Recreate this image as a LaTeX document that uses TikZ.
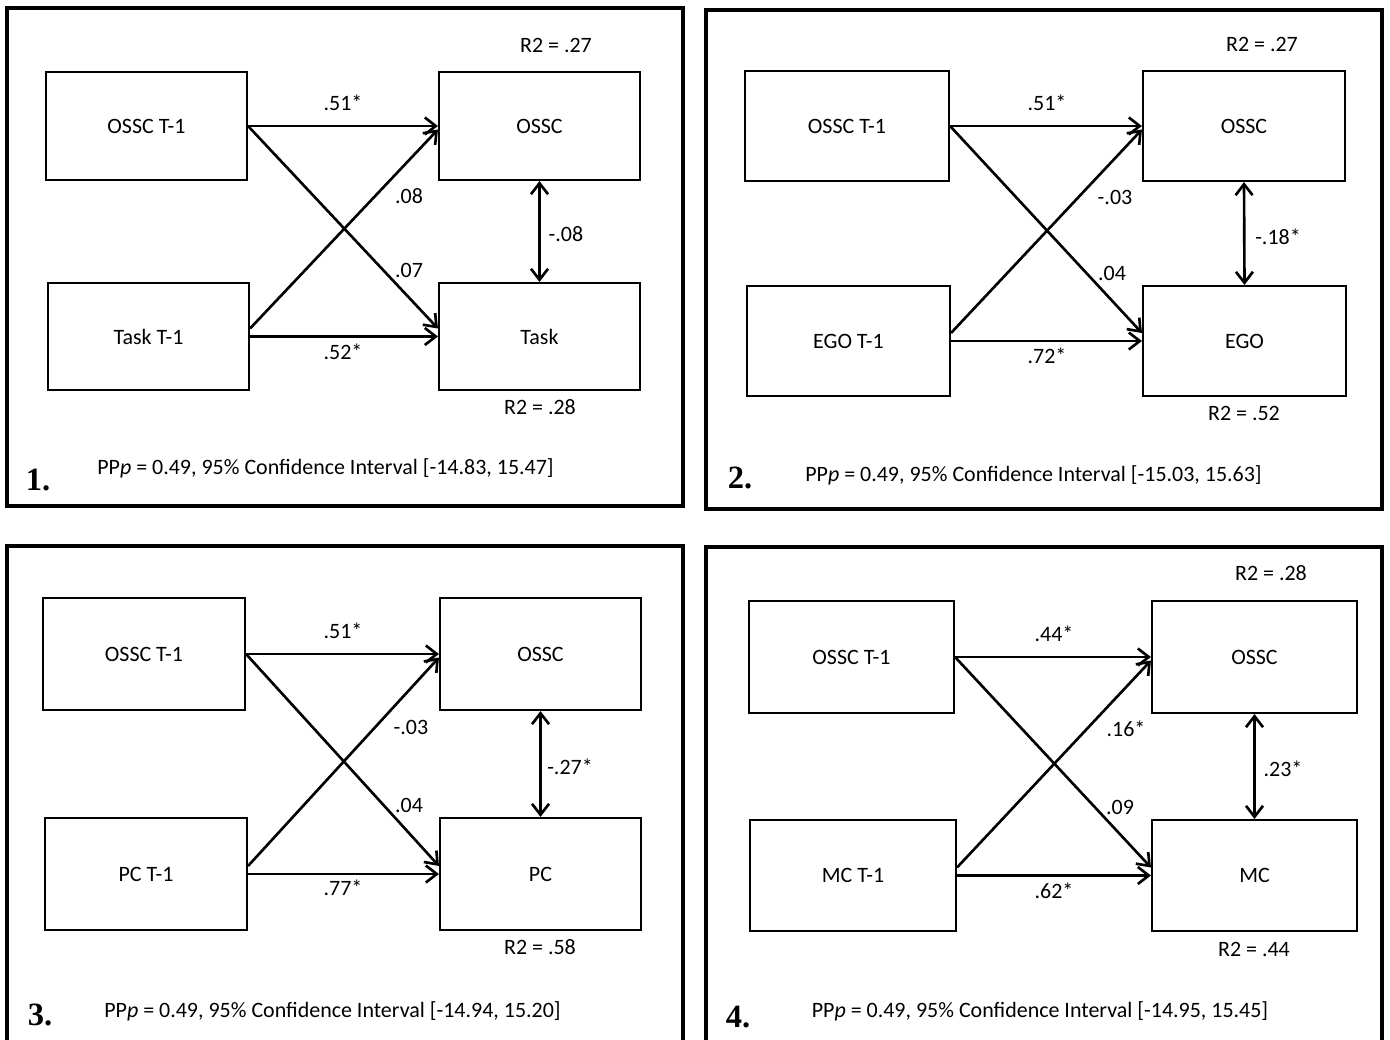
\documentclass[tikz,border=0pt]{standalone}
\usepackage{fontspec}
\setmainfont{Carlito}
\newfontfamily\numfont{Liberation Serif}
\usetikzlibrary{arrows.meta}
\begin{document}
\begin{tikzpicture}[x=0.02cm,y=-0.02cm]

    \tikzset{
      box/.style={
        draw,
        line width=1.2pt,
        inner sep=0pt,
        font=\fontsize{12.5}{15}\selectfont,
      },
      lbl/.style={
        inner sep=0pt,
        font=\fontsize{12.5}{15}\selectfont,
      },
      link/.style={
        line width=1.5pt,
        -{Straight Barb[length=2.2mm,width=3.4mm]},
      },
      corr/.style={
        line width=1.5pt,
        {Straight Barb[length=2.2mm,width=3.4mm]}-{Straight Barb[length=2.2mm,width=3.4mm]},
      },
      frame/.style={line width=1.8pt},
      num/.style={inner sep=0pt, font=\numfont\bfseries\fontsize{18.5}{20}\selectfont},
    }
    \useasboundingbox (0,0) rectangle (1390,1040);

	\draw[frame] (7,8) rectangle (683,506);
	\node[box, minimum width=4.02cm, minimum height=2.16cm] (ossclag1) at (146.5,126) {OSSC T-1};
	\node[box, minimum width=4.02cm, minimum height=2.14cm] (tasklag1) at (148.5,336.5) {Task T-1};
	\node[box, minimum width=4.02cm, minimum height=2.16cm] (ossc1) at (539.5,126) {OSSC};
	\node[box, minimum width=4.02cm, minimum height=2.14cm] (task1) at (539.5,336.5) {Task};
	\draw[link] (ossclag1.east) -- (ossc1.west);
	\draw[link] (tasklag1.east) -- (task1.west);
	\draw[link] (ossclag1.east) -- ([yshift=0.16cm]task1.west);
	\draw[link] ([yshift=0.16cm]tasklag1.east) -- ([yshift=-0.07cm]ossc1.west);
	\draw[corr] (ossc1.south) -- (task1.north);
	\node[lbl] (r2a1) at (556,45) {R2 = .27};
	\node[lbl] (r2b1) at (540,407) {R2 = .28};
	\node[lbl] (wa1) at (343,103) {.51*};
	\node[lbl] (wb1) at (343,352) {.52*};
	\node[lbl] (wc1) at (409,196) {.08};
	\node[lbl] (wd1) at (409,270) {.07};
	\node[lbl] (we1) at (566,234) {-.08};
	\node[num] (n1) at (38,480) {1.};
	\node[lbl] (fit1) at (325.5,468) {PP\textit{p} = 0.49, 95\% Confidence Interval [-14.83, 15.47]};

	\draw[frame] (706,10) rectangle (1382,509);
	\node[box, minimum width=4.08cm, minimum height=2.2cm] (ossclag2) at (847,126) {OSSC T-1};
	\node[box, minimum width=4.06cm, minimum height=2.2cm] (egolag2) at (848.5,341) {EGO T-1};
	\node[box, minimum width=4.04cm, minimum height=2.2cm] (ossc2) at (1244,126) {OSSC};
	\node[box, minimum width=4.06cm, minimum height=2.2cm] (ego2) at (1244.5,341) {EGO};
	\draw[link] (ossclag2.east) -- (ossc2.west);
	\draw[link] (egolag2.east) -- (ego2.west);
	\draw[link] (ossclag2.east) -- ([yshift=0.16cm]ego2.west);
	\draw[link] ([yshift=0.16cm]egolag2.east) -- ([yshift=-0.07cm]ossc2.west);
	\draw[corr] (ossc2.south) -- (ego2.north);
	\node[lbl] (r2a2) at (1262,44) {R2 = .27};
	\node[lbl] (r2b2) at (1244,413) {R2 = .52};
	\node[lbl] (wa2) at (1047,103) {.51*};
	\node[lbl] (wb2) at (1047,356) {.72*};
	\node[lbl] (wc2) at (1115,197) {-.03};
	\node[lbl] (wd2) at (1112,273) {.04};
	\node[lbl] (we2) at (1278,237) {-.18*};
	\node[num] (n2) at (740,478) {2.};
	\node[lbl] (fit2) at (1033.5,475) {PP\textit{p} = 0.49, 95\% Confidence Interval [-15.03, 15.63]};

	\draw[frame] (7,1045) -- (7,546) -- (683,546) -- (683,1045);
	\node[box, minimum width=4.04cm, minimum height=2.24cm] (ossclag3) at (144,654) {OSSC T-1};
	\node[box, minimum width=4.04cm, minimum height=2.24cm] (pclag3) at (146,874) {PC T-1};
	\node[box, minimum width=4.02cm, minimum height=2.24cm] (ossc3) at (540.5,654) {OSSC};
	\node[box, minimum width=4.02cm, minimum height=2.24cm] (pc3) at (540.5,874) {PC};
	\draw[link] (ossclag3.east) -- (ossc3.west);
	\draw[link] (pclag3.east) -- (pc3.west);
	\draw[link] (ossclag3.east) -- ([yshift=0.16cm]pc3.west);
	\draw[link] ([yshift=0.16cm]pclag3.east) -- ([yshift=-0.07cm]ossc3.west);
	\draw[corr] (ossc3.south) -- (pc3.north);
	\node[lbl] (r2b3) at (540,947) {R2 = .58};
	\node[lbl] (wa3) at (343,631) {.51*};
	\node[lbl] (wb3) at (343,888) {.77*};
	\node[lbl] (wc3) at (411,727) {-.03};
	\node[lbl] (wd3) at (409,805) {.04};
	\node[lbl] (we3) at (570,767) {-.27*};
	\node[num] (n3) at (40,1015) {3.};
	\node[lbl] (fit3) at (332.5,1011) {PP\textit{p} = 0.49, 95\% Confidence Interval [-14.94, 15.20]};

	\draw[frame] (706,1045) -- (706,547) -- (1382,547) -- (1382,1045);
	\node[box, minimum width=4.1cm, minimum height=2.24cm] (ossclag4) at (851.5,657) {OSSC T-1};
	\node[box, minimum width=4.12cm, minimum height=2.22cm] (mclag4) at (853,875.5) {MC T-1};
	\node[box, minimum width=4.1cm, minimum height=2.24cm] (ossc4) at (1254.5,657) {OSSC};
	\node[box, minimum width=4.1cm, minimum height=2.22cm] (mc4) at (1254.5,875.5) {MC};
	\draw[link] (ossclag4.east) -- (ossc4.west);
	\draw[link] (mclag4.east) -- (mc4.west);
	\draw[link] (ossclag4.east) -- ([yshift=0.16cm]mc4.west);
	\draw[link] ([yshift=0.16cm]mclag4.east) -- ([yshift=-0.07cm]ossc4.west);
	\draw[corr] (ossc4.south) -- (mc4.north);
	\node[lbl] (r2a4) at (1271,573) {R2 = .28};
	\node[lbl] (r2b4) at (1254,949) {R2 = .44};
	\node[lbl] (wa4) at (1054,634) {.44*};
	\node[lbl] (wb4) at (1054,891) {.62*};
	\node[lbl] (wc4) at (1126,729) {.16*};
	\node[lbl] (wd4) at (1120,807) {.09};
	\node[lbl] (we4) at (1283,769) {.23*};
	\node[num] (n4) at (738,1017) {4.};
	\node[lbl] (fit4) at (1040,1011) {PP\textit{p} = 0.49, 95\% Confidence Interval [-14.95, 15.45]};

\end{tikzpicture}
\end{document}
